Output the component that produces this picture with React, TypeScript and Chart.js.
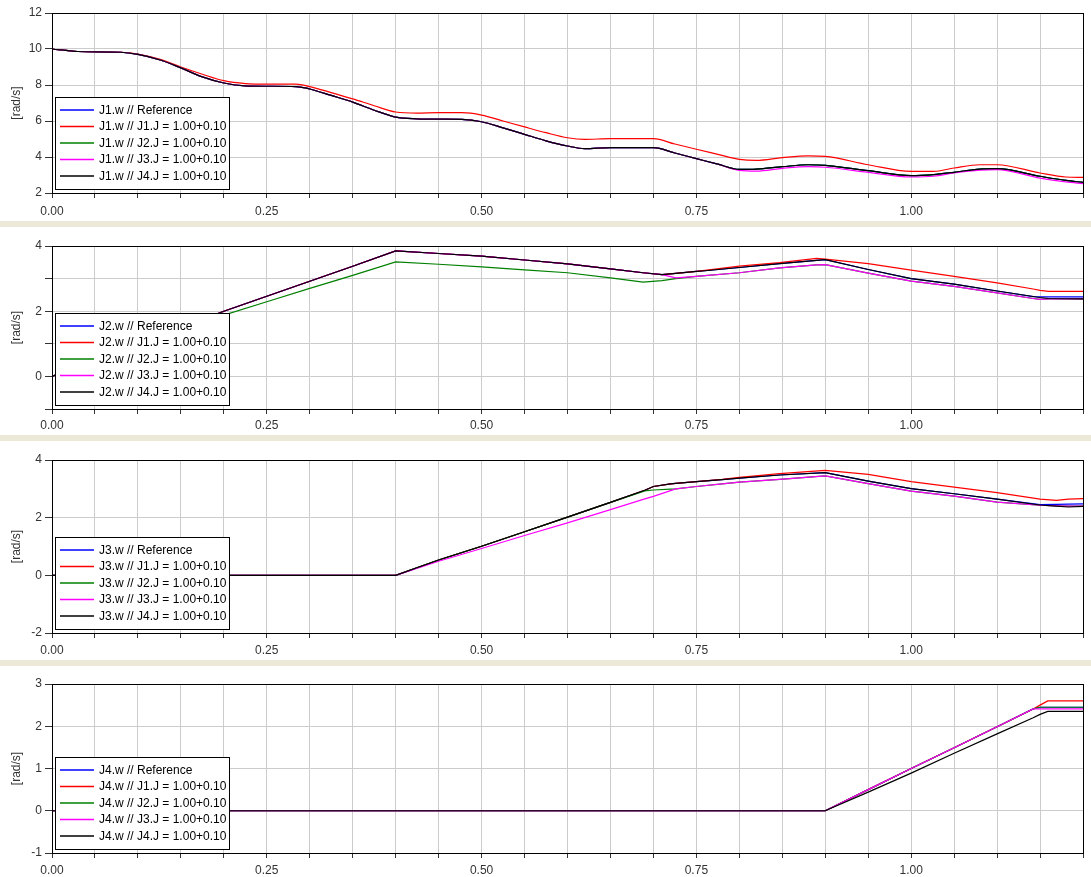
import React, { useEffect, useRef } from 'react';
import { Chart, registerables } from 'chart.js';

Chart.register(...registerables);

const FONT = '"Liberation Sans", Arial, sans-serif';

const seriesNames = ['Reference', 'J1.J = 1.00+0.10', 'J2.J = 1.00+0.10', 'J3.J = 1.00+0.10', 'J4.J = 1.00+0.10'];
const seriesColors = ['#0000ff', '#ff0000', '#008000', '#ff00ff', '#000000'];

// ---------- Panel 1: J1.w ----------
const t1 = [0, 0.03, 0.08, 0.1, 0.126, 0.15, 0.175, 0.2, 0.225, 0.25, 0.284, 0.3, 0.325, 0.35, 0.375, 0.4, 0.425, 0.45, 0.477, 0.5, 0.525, 0.55, 0.575, 0.6, 0.62, 0.65, 0.7, 0.725, 0.75, 0.775, 0.8, 0.82, 0.85, 0.88, 0.9, 0.95, 1.0, 1.026, 1.05, 1.08, 1.1, 1.15, 1.18, 1.2];
const j1Ref = [10.0, 9.86, 9.82, 9.7, 9.39, 8.95, 8.45, 8.11, 7.95, 7.93, 7.91, 7.78, 7.42, 7.05, 6.6, 6.22, 6.12, 6.1, 6.09, 5.96, 5.62, 5.26, 4.9, 4.61, 4.46, 4.52, 4.52, 4.22, 3.91, 3.6, 3.31, 3.33, 3.46, 3.57, 3.54, 3.24, 2.96, 3.02, 3.15, 3.33, 3.35, 2.93, 2.7, 2.59];
const j1J1 = [10.0, 9.86, 9.82, 9.72, 9.42, 9.0, 8.6, 8.24, 8.08, 8.05, 8.05, 7.91, 7.58, 7.23, 6.85, 6.5, 6.44, 6.46, 6.46, 6.33, 6.0, 5.67, 5.35, 5.07, 4.98, 5.02, 5.02, 4.72, 4.43, 4.15, 3.87, 3.81, 3.96, 4.06, 4.03, 3.57, 3.2, 3.2, 3.39, 3.57, 3.57, 3.11, 2.89, 2.87];
const j1J2 = [10.0, 9.86, 9.82, 9.7, 9.39, 8.95, 8.45, 8.11, 7.95, 7.93, 7.91, 7.78, 7.42, 7.05, 6.6, 6.22, 6.12, 6.1, 6.09, 5.96, 5.62, 5.26, 4.9, 4.61, 4.46, 4.52, 4.52, 4.22, 3.91, 3.6, 3.31, 3.33, 3.46, 3.57, 3.54, 3.24, 2.96, 3.02, 3.15, 3.33, 3.35, 2.93, 2.7, 2.59];
const j1J3 = [10.0, 9.86, 9.82, 9.7, 9.39, 8.95, 8.45, 8.11, 7.95, 7.93, 7.91, 7.78, 7.42, 7.05, 6.6, 6.22, 6.12, 6.1, 6.09, 5.96, 5.62, 5.26, 4.9, 4.61, 4.46, 4.52, 4.52, 4.22, 3.91, 3.6, 3.26, 3.22, 3.37, 3.46, 3.43, 3.15, 2.89, 2.93, 3.11, 3.27, 3.3, 2.83, 2.62, 2.52];
const j1J4 = [10.0, 9.86, 9.82, 9.7, 9.39, 8.95, 8.45, 8.11, 7.95, 7.93, 7.91, 7.78, 7.42, 7.05, 6.6, 6.22, 6.12, 6.1, 6.09, 5.96, 5.62, 5.26, 4.9, 4.61, 4.46, 4.52, 4.52, 4.22, 3.91, 3.6, 3.31, 3.33, 3.46, 3.57, 3.54, 3.24, 2.96, 3.02, 3.15, 3.33, 3.35, 2.93, 2.7, 2.59];

// ---------- Panel 2: J2.w ----------
const t2 = [0, 0.2, 0.25, 0.3, 0.35, 0.4, 0.45, 0.5, 0.55, 0.6, 0.65, 0.688, 0.71, 0.726, 0.75, 0.76, 0.8, 0.847, 0.89, 0.9, 0.95, 1.0, 1.05, 1.1, 1.142, 1.15, 1.16, 1.2];
const j2Ref = [0, 2.0, 2.46, 2.92, 3.38, 3.85, 3.77, 3.69, 3.57, 3.45, 3.3, 3.18, 3.12, 3.16, 3.22, 3.24, 3.34, 3.46, 3.56, 3.58, 3.28, 3.0, 2.83, 2.62, 2.45, 2.44, 2.44, 2.44];
const j2J1 = [0, 2.0, 2.46, 2.92, 3.38, 3.85, 3.77, 3.69, 3.57, 3.45, 3.3, 3.18, 3.12, 3.16, 3.22, 3.25, 3.38, 3.49, 3.62, 3.6, 3.46, 3.26, 3.07, 2.87, 2.68, 2.64, 2.61, 2.61];
const j2J2 = [0, 1.88, 2.29, 2.7, 3.1, 3.51, 3.44, 3.36, 3.27, 3.18, 3.02, 2.89, 2.94, 3.0, 3.07, 3.09, 3.18, 3.33, 3.42, 3.43, 3.17, 2.92, 2.76, 2.56, 2.39, 2.36, 2.38, 2.38];
const j2J3 = [0, 2.0, 2.46, 2.92, 3.38, 3.85, 3.77, 3.69, 3.57, 3.45, 3.3, 3.18, 3.12, 3.02, 3.07, 3.09, 3.18, 3.33, 3.42, 3.43, 3.17, 2.92, 2.76, 2.56, 2.39, 2.36, 2.38, 2.38];
const j2J4 = [0, 2.0, 2.46, 2.92, 3.38, 3.85, 3.77, 3.69, 3.57, 3.45, 3.3, 3.18, 3.12, 3.16, 3.22, 3.24, 3.34, 3.46, 3.56, 3.58, 3.28, 3.0, 2.83, 2.62, 2.45, 2.42, 2.39, 2.38];

// ---------- Panel 3: J3.w ----------
const t3 = [0, 0.4, 0.45, 0.5, 0.55, 0.6, 0.65, 0.69, 0.7, 0.72, 0.726, 0.75, 0.78, 0.8, 0.847, 0.9, 0.95, 1.0, 1.05, 1.1, 1.15, 1.169, 1.183, 1.2];
const j3Ref = [0, 0, 0.53, 1.01, 1.51, 2.02, 2.53, 2.95, 3.08, 3.17, 3.19, 3.25, 3.32, 3.37, 3.48, 3.56, 3.27, 3.01, 2.83, 2.64, 2.45, 2.46, 2.47, 2.48];
const j3J1 = [0, 0, 0.53, 1.01, 1.51, 2.02, 2.53, 2.95, 3.08, 3.17, 3.19, 3.25, 3.33, 3.4, 3.53, 3.64, 3.5, 3.25, 3.06, 2.87, 2.64, 2.6, 2.64, 2.66];
const j3J2 = [0, 0, 0.53, 1.01, 1.51, 2.02, 2.53, 2.93, 2.96, 2.99, 3.0, 3.08, 3.17, 3.23, 3.33, 3.45, 3.18, 2.92, 2.75, 2.54, 2.43, 2.41, 2.4, 2.4];
const j3J3 = [0, 0, 0.49, 0.93, 1.38, 1.82, 2.28, 2.65, 2.74, 2.94, 3.0, 3.08, 3.17, 3.23, 3.33, 3.45, 3.18, 2.92, 2.75, 2.54, 2.43, 2.41, 2.4, 2.4];
const j3J4 = [0, 0, 0.53, 1.01, 1.51, 2.02, 2.53, 2.95, 3.08, 3.17, 3.19, 3.25, 3.32, 3.37, 3.48, 3.56, 3.27, 3.01, 2.83, 2.64, 2.44, 2.4, 2.37, 2.39];

// ---------- Panel 4: J4.w ----------
const t4 = [0, 0.9, 0.95, 1.0, 1.05, 1.1, 1.142, 1.15, 1.159, 1.2];
const j4Ref = [0, 0, 0.5, 1.0, 1.49, 1.99, 2.41, 2.45, 2.45, 2.45];
const j4J1 = [0, 0, 0.5, 1.0, 1.49, 1.99, 2.41, 2.5, 2.6, 2.6];
const j4J2 = [0, 0, 0.5, 1.0, 1.49, 1.99, 2.41, 2.45, 2.45, 2.45];
const j4J3 = [0, 0, 0.5, 1.0, 1.49, 1.99, 2.41, 2.41, 2.41, 2.41];
const j4J4 = [0, 0, 0.44, 0.89, 1.36, 1.82, 2.2, 2.28, 2.35, 2.35];

// y-axis settings per panel
const yRanges = [
  { min: 2, max: 12, step: 2, labelStep: 2 },
  { min: -1, max: 4, step: 1, labelStep: 2 },
  { min: -2, max: 4, step: 2, labelStep: 2 },
  { min: -1, max: 3, step: 1, labelStep: 1 },
];

const panels = [
  { name: 'J1', t: t1, series: [j1Ref, j1J1, j1J2, j1J3, j1J4], smooth: true, top: 0, h: 221, padTop: 13, xh: 28, xPad: 6, y: yRanges[0] },
  { name: 'J2', t: t2, series: [j2Ref, j2J1, j2J2, j2J3, j2J4], smooth: false, top: 227, h: 208, padTop: 19, xh: 26, xPad: 4, y: yRanges[1] },
  { name: 'J3', t: t3, series: [j3Ref, j3J1, j3J2, j3J3, j3J4], smooth: false, top: 441, h: 219, padTop: 19, xh: 27, xPad: 5, y: yRanges[2] },
  { name: 'J4', t: t4, series: [j4Ref, j4J1, j4J2, j4J3, j4J4], smooth: false, top: 666, h: 211, padTop: 18, xh: 24, xPad: 5, y: yRanges[3] },
];

const framePlugin = {
  id: 'frame',
  afterDraw(chart: any) {
    const { ctx, chartArea } = chart;
    ctx.save();
    ctx.strokeStyle = '#000';
    ctx.lineWidth = 1;
    const l = Math.round(chartArea.left) + 0.5;
    const t = Math.round(chartArea.top) + 0.5;
    const r = Math.round(chartArea.right) + 0.5;
    const b = Math.round(chartArea.bottom) + 0.5;
    ctx.strokeRect(l, t, r - l, b - t);
    ctx.restore();
  },
};

const boxLegendPlugin = {
  id: 'boxLegend',
  afterDraw(chart: any) {
    const { ctx, chartArea } = chart;
    const w = 174;
    const h = 92;
    const x = Math.round(chartArea.left) + 3;
    const y = Math.round(chartArea.bottom) - 4 - h;
    ctx.save();
    ctx.fillStyle = '#ffffff';
    ctx.fillRect(x, y, w, h);
    ctx.strokeStyle = '#000';
    ctx.lineWidth = 1;
    ctx.strokeRect(x + 0.5, y + 0.5, w, h);
    ctx.font = `12px ${FONT}`;
    ctx.textBaseline = 'middle';
    ctx.textAlign = 'left';
    chart.data.datasets.forEach((ds: any, i: number) => {
      const cy = y + 13 + i * 16.5;
      ctx.strokeStyle = ds.borderColor;
      ctx.lineWidth = 1.5;
      ctx.beginPath();
      ctx.moveTo(x + 5, cy);
      ctx.lineTo(x + 39, cy);
      ctx.stroke();
      ctx.fillStyle = '#000';
      ctx.fillText(ds.label, x + 44, cy + 0.5);
    });
    ctx.restore();
  },
};

function Panel({ p }: { p: any }) {
  const ref = useRef<HTMLCanvasElement>(null);
  useEffect(() => {
    const canvas = ref.current;
    if (!canvas) return;
    const font = { family: FONT, size: 12 };
    const n = p.series.length;
    const chart = new Chart(canvas, {
      type: 'line',
      data: {
        datasets: p.series.map((vals: number[], i: number) => ({
          label: `${p.name}.w // ${seriesNames[i]}`,
          data: p.t.map((x: number, k: number) => ({ x, y: vals[k] })),
          borderColor: seriesColors[i],
          backgroundColor: seriesColors[i],
          borderWidth: 1.2,
          pointRadius: 0,
          fill: false,
          tension: 0,
          order: n - 1 - i,
          cubicInterpolationMode: p.smooth ? 'monotone' : 'default',
        })),
      },
      options: {
        animation: false,
        responsive: false,
        maintainAspectRatio: false,
        events: [],
        layout: { padding: { top: p.padTop, right: 8, left: 0, bottom: 0 } },
        plugins: { legend: { display: false }, tooltip: { enabled: false }, title: { display: false } },
        scales: {
          x: {
            type: 'linear',
            min: 0,
            max: 1.2,
            afterFit: (s: any) => { s.height = p.xh; },
            ticks: {
              stepSize: 0.05,
              autoSkip: false,
              maxRotation: 0,
              padding: p.xPad,
              color: '#333',
              font,
              callback: (v: any) => {
                const num = Number(v);
                return Math.abs(num * 4 - Math.round(num * 4)) < 1e-6 ? num.toFixed(2) : '';
              },
            },
            grid: { color: '#cccccc', tickColor: '#333', tickLength: 5, lineWidth: 1 },
            border: { color: '#000' },
          },
          y: {
            type: 'linear',
            min: p.y.min,
            max: p.y.max,
            afterFit: (s: any) => { s.width = 52; },
            ticks: {
              stepSize: p.y.step,
              autoSkip: false,
              padding: 3,
              color: '#333',
              font,
              callback: (v: any) => {
                const num = Number(v);
                const r = num / p.y.labelStep;
                return Math.abs(r - Math.round(r)) < 1e-6 ? String(Math.round(num)) : '';
              },
            },
            grid: { color: '#cccccc', tickColor: '#333', tickLength: 7, lineWidth: 1 },
            border: { color: '#000' },
            title: { display: true, text: '[rad/s]', color: '#333', font, padding: { top: 9, bottom: 0 } },
          },
        },
      },
      plugins: [framePlugin, boxLegendPlugin],
    } as any);
    return () => chart.destroy();
  }, [p]);
  return (
    <canvas
      ref={ref}
      width={1091}
      height={p.h}
      style={{ position: 'absolute', left: 0, top: p.top, width: 1091, height: p.h, background: '#ffffff', display: 'block' }}
    />
  );
}

export default function App() {
  return (
    <div style={{ position: 'absolute', left: 0, top: 0, width: 1091, height: 877, background: '#ECE9D8', overflow: 'hidden' }}>
      {panels.map((p) => (
        <Panel key={p.name} p={p} />
      ))}
    </div>
  );
}
